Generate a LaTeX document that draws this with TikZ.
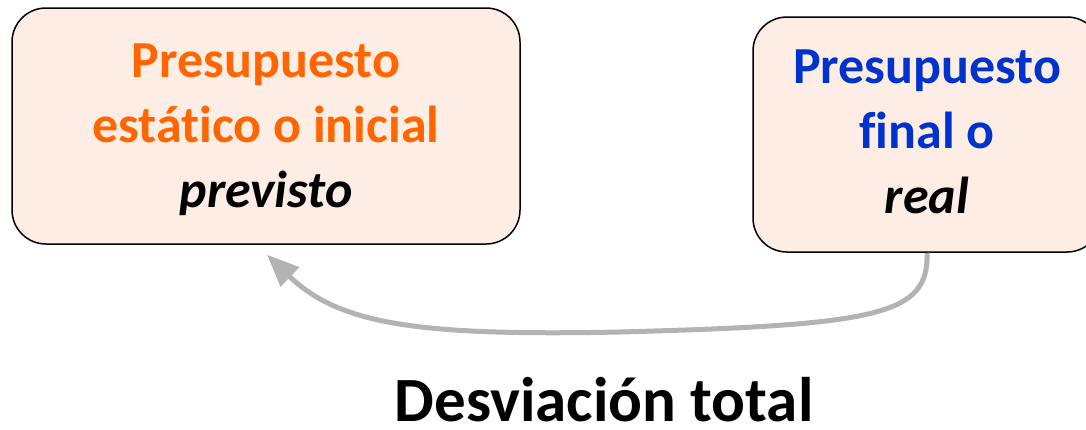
\documentclass[tikz,border=0pt]{standalone}
\usepackage{fontspec}
\setmainfont[Ligatures={NoCommon,NoContextual}]{Carlito}
\usetikzlibrary{arrows.meta,calc}
\definecolor{boxfill}{HTML}{FDEDE4}
\definecolor{orangetxt}{HTML}{FF6600}
\definecolor{bluetxt}{HTML}{0033CC}
\definecolor{arrowgray}{HTML}{B3B3B3}
\tikzset{
  budget/.style={draw=black, line width=1.5pt, fill=boxfill, rounded corners=34pt,
    align=center, inner sep=0pt, font=\bfseries\fontsize{52}{65}\selectfont},
  flow/.style={draw=arrowgray, line width=5pt, -{Triangle[length=32pt,width=26pt]}},
  caption/.style={font=\bfseries\fontsize{63}{70}\selectfont, inner sep=0pt, text depth=0pt}
}
\begin{document}
\begin{tikzpicture}[x=1pt,y=-1pt]
\useasboundingbox (0,0) rectangle (1086,429);
\begin{scope}
\clip (0,0) rectangle (1086,429);
\node[budget, minimum width=508pt, minimum height=236pt, text depth=0pt] (L) at (266,126)
  {\color{orangetxt}Presupuesto\\\color{orangetxt}estát\kern0pt ico o inicial\\\textit{previsto}\rule[-8pt]{0pt}{1pt}};
\node[budget, minimum width=348pt, minimum height=235pt] (R) at (927,134.5)
  {\color{bluetxt}Presupuesto\\\color{bluetxt}f\kern0pt inal o\\\textit{real}\rule[-6pt]{0pt}{1pt}};
\end{scope}
\coordinate (tip) at ($(L.south)+(1,10)$);
\draw[flow] (R.south) .. controls (929,315) and (880,325) .. (620,332)
  .. controls (420,336) and (340,325) .. (tip);
\node[caption, anchor=base] (D) at (604,421) {Desviación total};
\end{tikzpicture}
\end{document}
